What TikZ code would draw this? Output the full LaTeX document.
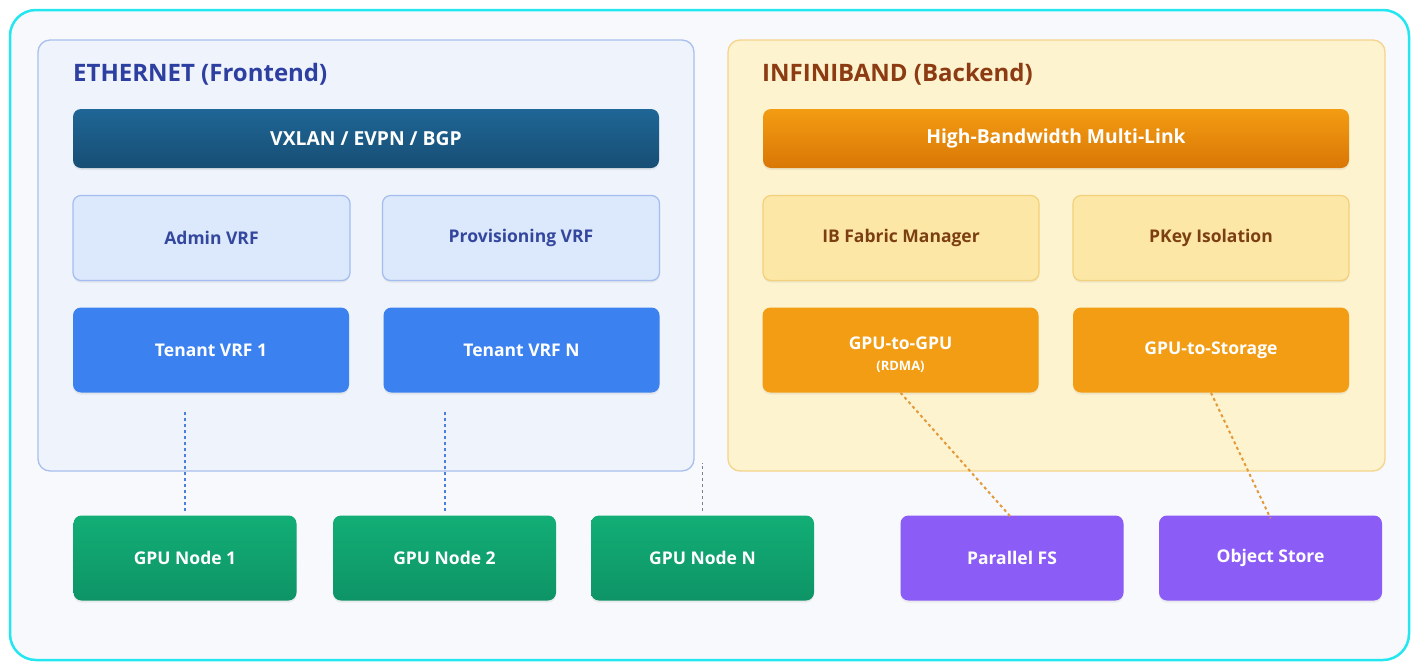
\documentclass[tikz,border=0pt]{standalone}
\usepackage{fontspec}
\setmainfont{Open Sans}
\usetikzlibrary{shadows}
\definecolor{pagebg}{HTML}{F8F9FC}
\definecolor{frame}{HTML}{22E6F0}
\definecolor{ethfill}{HTML}{EEF3FC}
\definecolor{ethline}{HTML}{A9BFEC}
\definecolor{ethtitle}{HTML}{2D3FA0}
\definecolor{vxtop}{HTML}{1F6696}
\definecolor{vxbot}{HTML}{174E74}
\definecolor{vrffill}{HTML}{DCE8FB}
\definecolor{vrfline}{HTML}{A3BDF0}
\definecolor{vrftext}{HTML}{34479E}
\definecolor{tenant}{HTML}{3B82F0}
\definecolor{ibfill}{HTML}{FEF3CF}
\definecolor{ibline}{HTML}{F5D48C}
\definecolor{ibtitle}{HTML}{8C3B12}
\definecolor{hbtop}{HTML}{F39C12}
\definecolor{hbbot}{HTML}{D97706}
\definecolor{mgrfill}{HTML}{FDE7A6}
\definecolor{mgrline}{HTML}{F3D07A}
\definecolor{mgrtext}{HTML}{7C3F12}
\definecolor{ibpath}{HTML}{F29D13}
\definecolor{gputop}{HTML}{12AE76}
\definecolor{gpubot}{HTML}{0E9466}
\definecolor{store}{HTML}{8B5CF6}
\definecolor{ethlink}{HTML}{4A7FE0}
\definecolor{ndlink}{HTML}{7A8290}
\definecolor{iblink}{HTML}{E39A3A}
\tikzset{
  panel/.style={rounded corners=12pt, line width=1.3pt},
  card/.style={rounded corners=8pt, minimum height=85pt, inner sep=0pt,
    font=\fontsize{17.5}{20}\selectfont\bfseries, align=center,
    drop shadow={opacity=0.12, shadow xshift=0pt, shadow yshift=-2pt}},
  bar/.style={card, minimum height=59pt, minimum width=586pt,
    font=\fontsize{19.3}{22}\selectfont\bfseries, text=white},
  softvrf/.style={card, minimum width=277pt, fill=vrffill, draw=vrfline, line width=1.2pt, text=vrftext},
  tenantbox/.style={card, minimum width=276pt, fill=tenant, text=white},
  softib/.style={card, minimum width=276pt, fill=mgrfill, draw=mgrline, line width=1.2pt, text=mgrtext},
  pathbox/.style={card, minimum width=276pt, fill=ibpath, text=white},
  gpubox/.style={card, minimum width=223pt, top color=gputop, bottom color=gpubot, text=white},
  storebox/.style={card, minimum width=223pt, fill=store, text=white},
  paneltitle/.style={anchor=west, inner sep=0pt, font=\fontsize{24}{28}\selectfont\bfseries},
  dotlink/.style={line width=2pt, dash pattern=on 3pt off 3pt},
}
\begin{document}
\begin{tikzpicture}[x=1pt, y=-1pt]
\useasboundingbox (0,0) rectangle (1418,662);
% page and frame
\draw[fill=pagebg, draw=frame, line width=2.5pt, rounded corners=26pt] (10,10) rectangle (1409,660);

% frontend panel
\draw[panel, fill=ethfill, draw=ethline] (38,40) rectangle (694,471);
\node[paneltitle, text=ethtitle] (ethtitle) at (73,74) {ETHERNET (Frontend)};
\node[bar, top color=vxtop, bottom color=vxbot] (vxlan) at (366,138.5) {VXLAN / EVPN / BGP};
\node[softvrf] (admin) at (211.5,238) {Admin VRF};
\node[softvrf] (prov) at (521,238) {Provisioning VRF};
\node[tenantbox] (t1) at (211,350) {Tenant VRF 1};
\node[tenantbox] (tn) at (521.5,350) {Tenant VRF N};

% backend panel
\draw[panel, fill=ibfill, draw=ibline] (728,40) rectangle (1385,471);
\node[paneltitle, text=ibtitle] (ibtitle) at (762,74) {INFINIBAND (Backend)};
\node[bar, top color=hbtop, bottom color=hbbot] (hbml) at (1056,138.5) {High-Bandwidth Multi-Link};
\node[softib] (fm) at (901,238) {IB Fabric Manager};
\node[softib] (pkey) at (1211,238) {PKey Isolation};
\node[pathbox] (g2g) at (900.5,350) {};
\node[align=center, inner sep=0pt, text=white, font=\fontsize{17.5}{20}\selectfont\bfseries]
  (g2gtext) at ([yshift=-5pt]g2g.center) {GPU-to-GPU\\[1pt]{\fontsize{13}{15}\selectfont\bfseries (RDMA)}};
\node[pathbox] (g2s) at (1211,350) {GPU-to-Storage};

% compute and storage nodes
\node[gpubox] (n1) at (185,558) {GPU Node 1};
\node[gpubox] (n2) at (444.5,558) {GPU Node 2};
\node[gpubox] (nn) at (702.5,558) {GPU Node N};
\node[storebox] (pfs) at (1012,558) {Parallel FS};
\node[storebox] (obj) at (1270.5,558) {Object Store};

% links
\coordinate (e1) at (185,410);
\coordinate (e2) at (444.5,410);
\coordinate (e3) at (702.5,463);
\draw[dotlink, ethlink] (n1.north) ++(0,-4) -- (e1);
\draw[dotlink, ethlink] (n2.north) ++(0,-4) -- (e2);
\draw[dotlink, ndlink, line width=1.6pt] (nn.north) ++(0,-4) -- (e3);
\draw[dotlink, iblink] (g2g.south) -- ([yshift=-3pt]pfs.north);
\draw[dotlink, iblink] (g2s.south) -- ([yshift=-3pt]obj.north);
\end{tikzpicture}
\end{document}
